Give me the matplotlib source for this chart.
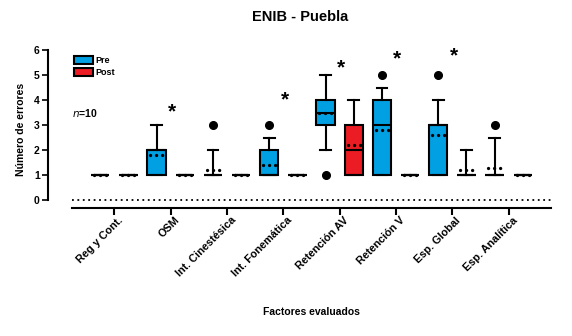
import matplotlib
matplotlib.use("Agg")
import matplotlib.pyplot as plt
import matplotlib.transforms as mtransforms
from matplotlib.patches import Patch

plt.rcParams['font.family'] = ['Liberation Sans', 'DejaVu Sans']

categories = ["Reg y Cont.", "OSM", "Int. Cinestésica", "Int. Fonemática",
              "Retención AV", "Retención V", "Esp. Global", "Esp. Analítica"]

# Box statistics per category
pre_q1 = [1, 1, 1, 1, 3, 1, 1, 1]
pre_med = [1, 2, 1, 1, 3.5, 3, 3, 1]
pre_q3 = [1, 2, 1, 2, 4, 4, 3, 1]
pre_lo = [1, 1, 1, 1, 2, 1, 1, 1]
pre_hi = [1, 3, 2, 2.5, 5, 4.5, 4, 2.5]
pre_mean = [1, 1.8, 1.2, 1.4, 3.5, 2.8, 2.6, 1.3]
pre_fliers = [[], [], [3], [3], [1], [5], [5], [3]]

post_q1 = [1, 1, 1, 1, 1, 1, 1, 1]
post_med = [1, 1, 1, 1, 2, 1, 1, 1]
post_q3 = [1, 1, 1, 1, 3, 1, 1, 1]
post_lo = [1, 1, 1, 1, 1, 1, 1, 1]
post_hi = [1, 1, 1, 1, 4, 1, 2, 1]
post_mean = [1, 1, 1, 1, 2.2, 1, 1.2, 1]
post_fliers = [[], [], [], [], [], [], [], []]

# significance stars (category index, height)
star_idx = [1, 3, 4, 5, 6]
star_y = [3.55, 4.0, 5.3, 5.65, 5.75]

n_text = "10"

blue = '#00A0E3'
red = '#EC1C24'

fig = plt.figure(figsize=(5.72, 3.36), dpi=100)
ax = fig.add_axes([72/572, 1 - 208/336, (551-72)/572, (208-50)/336])


def stats(q1, med, q3, lo, hi, mean, fl):
    return [dict(q1=a, med=b, q3=c, whislo=d, whishi=e, mean=f, fliers=g)
            for a, b, c, d, e, f, g in zip(q1, med, q3, lo, hi, mean, fl)]


pre_pos = [2 * i for i in range(len(categories))]
post_pos = [2 * i + 1 for i in range(len(categories))]

common = dict(widths=0.65, capwidths=0.38, patch_artist=True, showmeans=True,
              meanline=True, shownotches=False,
              whiskerprops=dict(color='black', lw=1.5),
              capprops=dict(color='black', lw=1.5),
              medianprops=dict(color='black', lw=1.5),
              meanprops=dict(color='black', lw=2.4, linestyle=(0.9, (0.01, 1.8)),
                             dash_capstyle='round'),
              flierprops=dict(marker='o', markerfacecolor='black',
                              markeredgecolor='black', markersize=5.5))

b1 = ax.bxp(stats(pre_q1, pre_med, pre_q3, pre_lo, pre_hi, pre_mean, pre_fliers),
            positions=pre_pos, **common)
b2 = ax.bxp(stats(post_q1, post_med, post_q3, post_lo, post_hi, post_mean, post_fliers),
            positions=post_pos, **common)
for bx in b1['boxes']:
    bx.set_facecolor(blue)
    bx.set_edgecolor('black')
    bx.set_linewidth(1.5)
for bx in b2['boxes']:
    bx.set_facecolor(red)
    bx.set_edgecolor('black')
    bx.set_linewidth(1.5)

# dotted zero line
ax.axhline(0, color='black', lw=1.3, linestyle=(0, (1, 2)))

# stars
for i, y in zip(star_idx, star_y):
    ax.text(2 * i + 0.55, y, "*", ha='center', va='center', fontsize=15,
            fontweight='bold')

ax.text(-1, 3.5, "$\\bf{\\it{n}}$=" + n_text, ha='left', va='center',
        fontsize=7.5, fontweight='bold')

ax.set_xlim(-1, 16)
ax.set_ylim(-0.3, 6)

for s in ['top', 'right']:
    ax.spines[s].set_visible(False)
ax.spines['left'].set_position(('outward', 24 * 72 / 100))
ax.spines['left'].set_bounds(0, 6)
ax.spines['left'].set_linewidth(1.5)
ax.spines['bottom'].set_linewidth(1.5)

ax.set_yticks(range(0, 7))
ax.set_yticklabels([str(v) for v in range(0, 7)], fontsize=7.5, fontweight='bold')
ax.tick_params(axis='y', length=4, width=1.2, pad=2)

centers = [2 * i + 0.5 for i in range(len(categories))]
ax.set_xticks(centers)
ax.set_xticklabels(categories, rotation=45, ha='right', va='center',
                   rotation_mode='anchor', fontsize=7.8, fontweight='bold')
ax.tick_params(axis='x', length=5, width=1.5, pad=2)
offset = mtransforms.ScaledTranslation(7 / 100, -1 / 100, fig.dpi_scale_trans)
for lbl in ax.get_xticklabels():
    lbl.set_transform(lbl.get_transform() + offset)

ax.set_ylabel("Número de errores", fontsize=7.5, fontweight='bold', labelpad=6)
fig.text(311 / 572, 1 - 312 / 336, "Factores evaluados", ha='center', va='center',
         fontsize=7.5, fontweight='bold')
fig.text(300 / 572, 1 - 17 / 336, "ENIB - Puebla", ha='center', va='center',
         fontsize=10.5, fontweight='bold')

handles = [Patch(facecolor=blue, edgecolor='black', lw=1.5, label='Pre'),
           Patch(facecolor=red, edgecolor='black', lw=1.5, label='Post')]
leg = ax.legend(handles=handles, loc='upper left', bbox_to_anchor=(0.0, 0.975),
                frameon=False, prop=dict(size=6.5, weight='bold'),
                handlelength=2.1, handleheight=1.0, handletextpad=0.3,
                labelspacing=0.3, borderaxespad=0.0, borderpad=0.2)

fig.savefig("out.png", dpi=100)
